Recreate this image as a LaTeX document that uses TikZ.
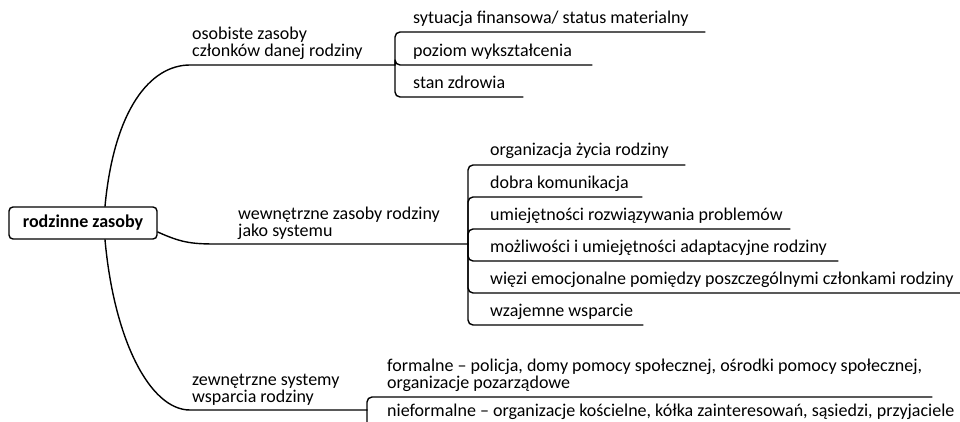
\documentclass[tikz,border=0pt]{standalone}
\usepackage{fontspec}
\setmainfont{Carlito}
\begin{document}
\begin{tikzpicture}[x=1pt,y=-1pt,
  conn/.style={line width=1.4pt, line cap=round, line join=round},
  leafconn/.style={conn, rounded corners=5pt},
  txt/.style={inner sep=0pt, font=\fontsize{18}{17}\selectfont},
  leaf/.style={txt, anchor=base west},
  branch/.style={txt, anchor=south west, align=left},
  rootbox/.style={draw, line width=1.4pt, rounded corners=4pt, minimum width=148pt,
    minimum height=32pt, inner sep=0pt, font=\fontsize{18}{17}\selectfont\bfseries}]
\clip (0,0) rectangle (960,422);

% central topic
\node[rootbox] (root) at (83,223) {rodzinne zasoby};

% main branches
\coordinate (b1s) at (190,65);
\coordinate (b2s) at (215,244);
\coordinate (b3s) at (190,410);
\coordinate (j1) at (395,65);
\coordinate (j2) at (468,244);
\coordinate (j3) at (367,410);

\draw[conn] (root.north -| 105,0) .. controls (114,110) and (150,65) .. (b1s) -- (j1);
\draw[conn] (root.east |- 0,232) .. controls (180,242) and (190,244) .. (b2s) -- (j2);
\draw[conn] (root.south -| 105,0) .. controls (114,340) and (150,410) .. (b3s) -- (j3);

\node[branch] (b1) at (192,60) {osobiste zasoby\\członków danej rodziny};
\node[branch] (b2) at (238,240) {wewnętrzne zasoby rodziny\\jako systemu};
\node[branch] (b3) at (192,406) {zewnętrzne systemy\\wsparcia rodziny};

% personal resources
\coordinate (e11) at (705,32);
\coordinate (e12) at (592,65);
\coordinate (e13) at (523,97);
\draw[leafconn] (j1) |- (e11);
\draw[leafconn] (j1) |- (e12);
\draw[leafconn] (j1) |- (e13);
\node[leaf] (l11) at (413,24) {sytuacja finansowa/ status materialny};
\node[leaf] (l12) at (413,57) {poziom wykształcenia};
\node[leaf] (l13) at (413,89) {stan zdrowia};

% family as a system
\coordinate (e21) at (685,165);
\coordinate (e22) at (642,197);
\coordinate (e23) at (790,229);
\coordinate (e24) at (838,261);
\coordinate (e25) at (962,293);
\coordinate (e26) at (643,325);
\foreach \i in {1,...,6} {\draw[leafconn] (j2) |- (e2\i);}
\node[leaf] (l21) at (490,156) {organizacja życia rodziny};
\node[leaf] (l22) at (490,188) {dobra komunikacja};
\node[leaf] (l23) at (490,220) {umiejętności rozwiązywania problemów};
\node[leaf] (l24) at (490,252) {możliwości i umiejętności adaptacyjne rodziny};
\node[leaf] (l25) at (490,284) {więzi emocjonalne pomiędzy poszczególnymi członkami rodziny};
\node[leaf] (l26) at (490,316) {wzajemne wsparcie};

% external support
\coordinate (e31) at (932,397);
\coordinate (e32) at (962,430);
\draw[leafconn] (j3) |- (e31);
\draw[leafconn] (j3) |- (e32);
\node[branch] (l31) at (387,392) {formalne – policja, domy pomocy społecznej, ośrodki pomocy społecznej,\\organizacje pozarządowe};
\node[leaf] (l32) at (387,416.5) {nieformalne – organizacje kościelne, kółka zainteresowań, sąsiedzi, przyjaciele};
\end{tikzpicture}
\end{document}
